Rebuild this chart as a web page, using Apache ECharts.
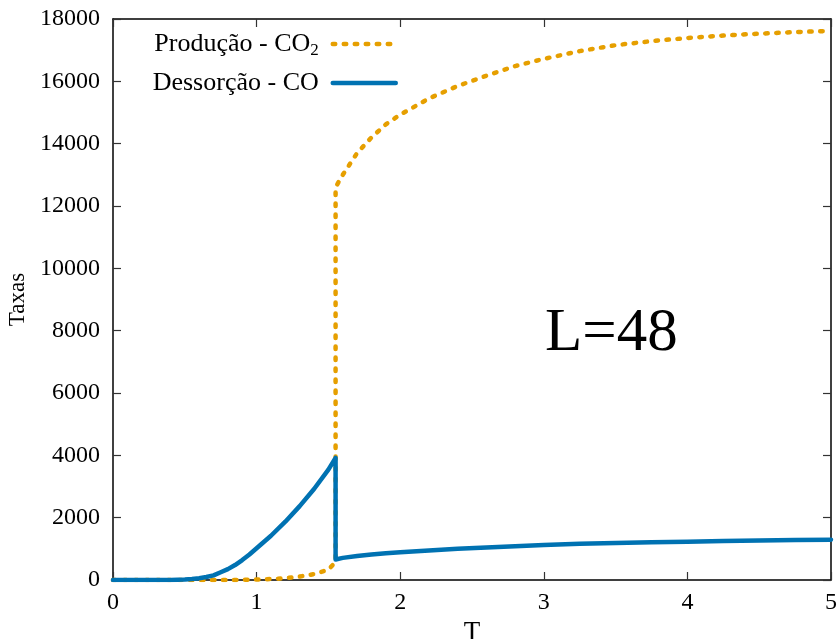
<!DOCTYPE html>
<html>
<head>
<meta charset="utf-8">
<script src="https://cdn.jsdelivr.net/npm/echarts@6/dist/echarts.min.js"></script>
<style>
  html, body { margin: 0; padding: 0; background: #fff; }
  #chart { width: 838px; height: 639px; }
</style>
</head>
<body>
<div id="chart"></div>
<script>
// Temperature values (shared by both curves; 1.55 repeated for the transition jump)
const temps = [0, 0.1, 0.2, 0.3, 0.4, 0.5, 0.55, 0.6, 0.65, 0.7, 0.75, 0.8, 0.85, 0.9, 0.95, 1.0,
               1.1, 1.2, 1.3, 1.4, 1.5, 1.55, 1.55,
               1.6, 1.7, 1.8, 1.9, 2.0, 2.2, 2.4, 2.6, 2.8, 3.0, 3.25, 3.5, 3.75, 4.0, 4.25, 4.5, 4.75, 5.0];

// CO2 production rate
const producaoCO2 = [0, 0, 0, 0, 0, 0, 0, 0, 0, 0, 0, 2, 3, 5, 10, 15,
                     30, 55, 110, 190, 330, 580, 12600,
                     13000, 13700, 14200, 14620, 14930, 15450, 15850, 16180, 16490, 16720, 16970, 17160, 17290, 17390, 17470, 17530, 17580, 17620];

// CO desorption rate
const dessorcaoCO = [0, 0, 0, 0, 3, 15, 30, 55, 95, 150, 250, 350, 480, 640, 820, 1020,
                     1420, 1870, 2370, 2920, 3540, 3920, 660,
                     710, 770, 820, 860, 890, 950, 1000, 1040, 1080, 1120, 1160, 1190, 1210, 1230, 1250, 1265, 1280, 1295];

const xTicks = { min: 0, max: 5, step: 1 };
const yTicks = { min: 0, max: 18000, step: 2000 };

const seriesNames = ['Produção - CO2', 'Dessorção - CO'];
const annotation = 'L=48';
const xTitle = 'T';
const yTitle = 'Taxas';

const FONT = "'Liberation Serif', 'DejaVu Serif', 'Times New Roman', serif";
const ORANGE = '#E69F00';
const BLUE = '#0072B2';

const pairs = (xs, ys) => xs.map((x, i) => [x, ys[i]]);

const chart = echarts.init(document.getElementById('chart'), null, { renderer: 'canvas' });

const tickStyle = { show: true, inside: true, length: 8, lineStyle: { color: '#333', width: 1.2 } };
const lineStyleAxis = { show: true, onZero: false, lineStyle: { color: '#000', width: 1.5 } };
const labelStyle = { fontFamily: FONT, fontSize: 24, color: '#000', formatter: v => String(v) };

chart.setOption({
  animation: false,
  backgroundColor: '#fff',
  grid: { left: 113, right: 7, top: 19, bottom: 59, containLabel: false, outerBoundsMode: 'none' },
  legend: {
    orient: 'vertical',
    right: 440,
    top: 30,
    padding: 0,
    align: 'right',
    itemWidth: 63,
    itemHeight: 14,
    itemGap: 10,
    data: seriesNames,
    itemStyle: { opacity: 0 },
    lineStyle: { width: 4.5, cap: 'round' },
    formatter: name => name.replace(/CO2$/, 'CO{sub|2}'),
    textStyle: {
      fontFamily: FONT, fontSize: 26, lineHeight: 28, color: '#000', padding: [0, 9, 0, 0],
      rich: { sub: { fontFamily: FONT, fontSize: 17, color: '#000', padding: [13, 0, 0, 0] } }
    }
  },
  xAxis: [
    {
      type: 'value', position: 'bottom',
      min: xTicks.min, max: xTicks.max, interval: xTicks.step,
      axisLine: lineStyleAxis, axisTick: tickStyle, splitLine: { show: false },
      axisLabel: Object.assign({ margin: 11, showMinLabel: true, showMaxLabel: true }, labelStyle),
      name: xTitle, nameLocation: 'middle', nameGap: 27,
      nameTextStyle: { fontFamily: FONT, fontSize: 27, color: '#000' }
    },
    {
      type: 'value', position: 'top',
      min: xTicks.min, max: xTicks.max, interval: xTicks.step,
      axisLine: lineStyleAxis, axisTick: tickStyle, splitLine: { show: false },
      axisLabel: { show: false }
    }
  ],
  yAxis: [
    {
      type: 'value', position: 'left',
      min: yTicks.min, max: yTicks.max, interval: yTicks.step,
      axisLine: lineStyleAxis, axisTick: tickStyle, splitLine: { show: false },
      axisLabel: Object.assign({ margin: 13, showMinLabel: true, showMaxLabel: true }, labelStyle),
      name: yTitle, nameLocation: 'middle', nameGap: 68,
      nameTextStyle: { fontFamily: FONT, fontSize: 23, color: '#000' }
    },
    {
      type: 'value', position: 'right',
      min: yTicks.min, max: yTicks.max, interval: yTicks.step,
      axisLine: lineStyleAxis, axisTick: tickStyle, splitLine: { show: false },
      axisLabel: { show: false }
    }
  ],
  series: [
    {
      name: seriesNames[0],
      type: 'line',
      xAxisIndex: 0, yAxisIndex: 0,
      data: pairs(temps, producaoCO2),
      symbol: 'none',
      color: ORANGE,
      lineStyle: { color: ORANGE, width: 4.5, type: [2.5, 8.5], cap: 'round' },
      z: 2
    },
    {
      name: seriesNames[1],
      type: 'line',
      xAxisIndex: 0, yAxisIndex: 0,
      data: pairs(temps, dessorcaoCO),
      symbol: 'none',
      color: BLUE,
      lineStyle: { color: BLUE, width: 4.5, cap: 'round', join: 'round' },
      z: 3
    }
  ],
  graphic: [
    {
      type: 'text',
      x: 545, y: 334,
      style: { text: annotation, font: '61px ' + FONT, fill: '#000', align: 'left', verticalAlign: 'middle' }
    }
  ]
});
</script>
</body>
</html>
